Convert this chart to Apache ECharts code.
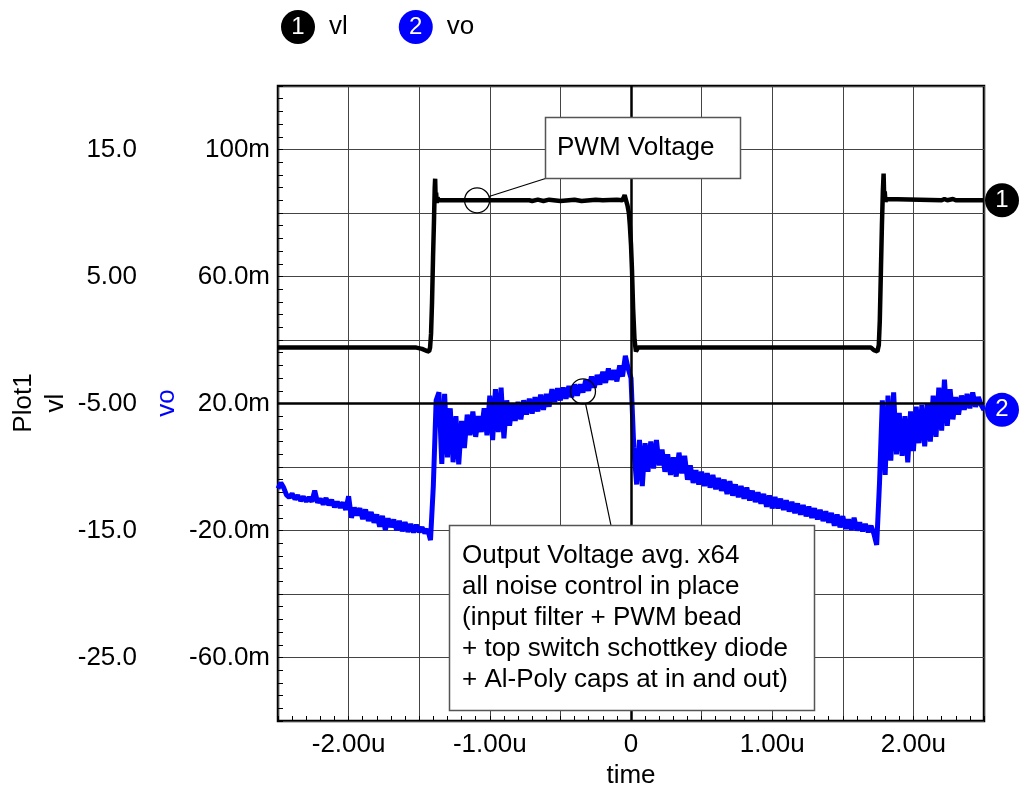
<!DOCTYPE html>
<html>
<head>
<meta charset="utf-8">
<script src="https://cdn.jsdelivr.net/npm/echarts@6/dist/echarts.min.js"></script>
<style>
  html, body { margin: 0; padding: 0; background: #fff; }
  #chart { width: 1019px; height: 788px; }
</style>
</head>
<body>
<div id="chart"></div>
<script>
// ---- scope capture: PWM node voltage (vl, volts) and averaged output ripple (vo, mV), time in µs ----

// labelled ticks
const timeTickLabels = [-2, -1, 0, 1, 2];
const vlTickLabels = [15, 5, -5, -15, -25];
const voTickLabels = [100, 60, 20, -20, -60];

// vl: switch node, edges sampled more densely
const vlTime = [
  -2.50, -1.52, -1.48, -1.45, -1.43, -1.423, -1.416, -1.409, -1.402, -1.395,
  -1.390, -1.387, -1.384, -1.380, -1.376, -1.370, -1.362, -1.30, -0.72, -0.70,
  -0.66, -0.62, -0.58, -0.50, -0.40, -0.35, -0.25, -0.20, -0.10, -0.06,
  -0.045, -0.035, -0.025, -0.015, -0.008, 0.000, 0.007, 0.015, 0.025, 0.035,
  0.05, 1.70, 1.72, 1.745, 1.755, 1.762, 1.770, 1.777, 1.784, 1.789,
  1.793, 1.797, 1.802, 1.81, 1.82, 2.20, 2.22, 2.24, 2.28, 2.30,
  2.50
];
const vlValue = [
  -0.6, -0.6, -0.7, -0.85, -0.9, -0.6, 0.5, 3.0, 6.5, 9.5,
  12.0, 12.7, 11.3, 11.6, 10.8, 11.2, 11.0, 11.0, 11.0, 10.95,
  11.05, 10.95, 11.05, 10.95, 11.05, 10.95, 11.05, 11.0, 11.05, 11.0,
  11.4, 11.0, 10.6, 10.0, 9.0, 7.5, 5.5, 2.5, 0.0, -0.9,
  -0.6, -0.6, -0.8, -0.9, -0.4, 1.5, 5.5, 9.0, 11.8, 13.1,
  11.2, 11.7, 10.9, 11.1, 11.0, 11.0, 11.1, 11.0, 11.1, 11.0,
  11.0
];

// vo: averaged output (mV), one sample every 20 ns starting at -2.50 µs
const voStart = -2.50;
const voStep = 0.02;
const voValue = [
  -6.8, -5.0, -6.5, -8.8, -9.6, -8.4, -10.1, -9.0, -10.6, -9.4,
  -10.8, -9.6, -10.9, -7.4, -11.2, -10.0, -11.8, -9.8, -12.0, -10.4,
  -12.6, -11.0, -12.8, -11.2, -13.5, -9.2, -16.0, -12.8, -15.2, -13.0,
  -16.4, -13.4, -17.0, -14.2, -17.5, -15.0, -18.8, -15.4, -19.8, -16.2,
  -18.9, -16.6, -19.9, -17.0, -20.2, -17.4, -20.4, -18.0, -20.6, -18.2,
  -20.5, -19.0, -20.8, -19.6, -23.0, -6.0, 21.0, 23.5, 1.0, 23.0,
  3.0, 18.5, 1.5, 16.0, 0.8, 14.5, 6.0, 16.5, 10.0, 17.5,
  9.5, 16.0, 11.0, 18.5, 10.0, 22.5, 8.5, 24.5, 11.0, 25.0,
  9.0, 21.0, 13.0, 20.0, 14.5, 20.5, 15.0, 21.0, 16.5, 21.5,
  16.8, 22.0, 17.5, 22.8, 18.0, 23.0, 19.0, 24.5, 20.5, 24.8,
  21.0, 25.0, 21.5, 25.5, 22.0, 26.0, 22.5, 26.0, 23.5, 27.5,
  24.0, 28.5, 25.0, 29.0, 26.0, 30.0, 26.5, 31.0, 27.5, 30.5,
  27.0, 32.0, 28.5, 35.0, 31.0, 28.0, 6.0, -5.5, 8.5, -6.0,
  7.5, -1.5, 8.0, -0.5, 8.5, 0.5, 5.5, -1.5, 4.0, -2.5,
  3.0, -3.0, 4.5, -2.0, 3.5, -4.0, 0.5, -5.0, -1.0, -5.5,
  -1.5, -6.0, -2.0, -6.5, -2.5, -7.0, -3.5, -7.5, -4.0, -8.5,
  -4.5, -9.0, -5.5, -9.5, -6.0, -10.0, -6.5, -10.5, -7.5, -11.0,
  -8.0, -11.5, -8.5, -12.5, -9.0, -13.0, -9.5, -13.0, -10.0, -13.5,
  -10.5, -14.0, -11.0, -14.5, -11.5, -15.0, -12.0, -15.5, -12.5, -16.0,
  -13.0, -16.5, -13.5, -17.0, -14.0, -17.5, -14.5, -18.5, -15.0, -19.0,
  -15.5, -19.5, -16.5, -19.8, -16.0, -20.0, -17.5, -20.2, -18.0, -20.5,
  -18.5, -21.0, -24.5, -5.0, 21.0, -2.5, 22.5, 2.0, 23.5, 4.0,
  17.0, 3.5, 16.0, 1.5, 17.5, 5.0, 19.0, 7.5, 19.5, 6.5,
  20.0, 8.0, 22.5, 9.5, 25.0, 11.5, 27.5, 13.0, 24.5, 15.0,
  22.0, 16.5, 22.5, 18.0, 23.0, 18.5, 23.5, 19.0, 22.0, 19.5,
  18.0
];

// annotation anchor points (data coordinates)
const pwmNote = { t: -1.09, v: 11.0, text: 'PWM Voltage' };
const outNote = {
  t: -0.34, v: 23.8,
  text: [
    'Output Voltage avg. x64',
    'all noise control in place',
    '(input filter + PWM bead',
    '+ top switch schottkey diode',
    '+ Al-Poly caps at in and out)'
  ]
};

const FONT = "'Liberation Sans', Arial, sans-serif";
const BLUE = '#0000ff';

const vlData = vlTime.map((t, i) => [t, vlValue[i]]);
const voData = voValue.map((v, i) => [voStart + i * voStep, v]);

const chart = echarts.init(document.getElementById('chart'), null, { renderer: 'canvas' });

const badge = (color) => ({
  backgroundColor: color, color: '#fff', width: 34, height: 34, lineHeight: 34,
  borderRadius: 17, align: 'center', fontSize: 24, fontFamily: FONT
});

const tickStyle = { color: '#000', width: 1 };

const option = {
  animation: false,
  backgroundColor: '#fff',
  textStyle: { fontFamily: FONT },
  legend: {
    left: 271, top: 5, itemWidth: 0, itemHeight: 0, itemGap: 46,
    icon: 'none', selectedMode: false,
    data: ['vl', 'vo'],
    formatter: (name) => name === 'vl' ? '{a|1}{t|vl}' : '{b|2}{t|vo}',
    textStyle: {
      rich: {
        a: badge('#000'),
        b: badge(BLUE),
        t: { fontSize: 26, color: '#000', padding: [0, 0, 0, 14], fontFamily: FONT }
      }
    }
  },
  grid: {
    left: 278, top: 86, width: 706, height: 635,
    show: true, borderColor: '#000', borderWidth: 2.5, backgroundColor: '#fff',
    outerBoundsMode: 'none'
  },
  xAxis: {
    type: 'value', min: -2.5, max: 2.5, interval: 0.5, position: 'bottom',
    name: 'time', nameLocation: 'middle', nameGap: 38,
    nameTextStyle: { fontSize: 26, color: '#000', fontFamily: FONT },
    axisLine: { show: false, onZero: false },
    axisTick: { show: true, inside: true, length: 5, lineStyle: tickStyle },
    minorTick: { show: true, splitNumber: 5, length: 5, lineStyle: tickStyle },
    splitLine: { show: true, lineStyle: { color: '#444', width: 1 } },
    axisLabel: {
      margin: 11, fontSize: 26, color: '#000', fontFamily: FONT,
      showMinLabel: true, showMaxLabel: true, hideOverlap: false,
      formatter: (v) => {
        const k = Math.round(v * 100) / 100;
        if (!timeTickLabels.includes(k)) return '';
        return k === 0 ? '0' : k.toPrecision(3) + 'u';
      }
    }
  },
  yAxis: [
    {
      type: 'value', min: -30, max: 20, interval: 5, position: 'left',
      axisLine: { show: false, onZero: false },
      axisTick: { show: true, inside: true, length: 5, lineStyle: tickStyle },
      minorTick: { show: true, splitNumber: 5, length: 5, lineStyle: tickStyle },
      splitLine: { show: true, lineStyle: { color: '#444', width: 1 } },
      axisLabel: {
        margin: 141, fontSize: 26, color: '#000', fontFamily: FONT,
        showMinLabel: true, showMaxLabel: true, hideOverlap: false,
        formatter: (v) => vlTickLabels.includes(v) ? v.toPrecision(3) : ''
      }
    },
    {
      type: 'value', min: -80, max: 120, interval: 20, position: 'left',
      axisLine: { show: false, onZero: false }, axisTick: { show: false }, splitLine: { show: false },
      axisLabel: {
        margin: 8, fontSize: 26, color: '#000', fontFamily: FONT,
        showMinLabel: true, showMaxLabel: true, hideOverlap: false,
        formatter: (v) => voTickLabels.includes(v) ? v.toPrecision(3) + 'm' : ''
      }
    }
  ],
  series: [
    {
      name: 'vl', type: 'line', xAxisIndex: 0, yAxisIndex: 0,
      data: vlData, showSymbol: false, symbol: 'none',
      lineStyle: { color: '#000', width: 4.5 }, itemStyle: { color: '#000' },
      z: 3,
      markLine: {
        silent: true, symbol: 'none', label: { show: false },
        lineStyle: { color: '#000', width: 2.5, type: 'solid' },
        data: [{ yAxis: -5 }, { xAxis: 0 }]
      },
      markPoint: {
        silent: true,
        data: [{
          coord: vlData[vlData.length - 1], symbol: 'circle', symbolSize: 34,
          symbolOffset: [18, 0], itemStyle: { color: '#000' },
          label: { show: true, position: 'inside', formatter: '1', color: '#fff', fontSize: 24, fontFamily: FONT }
        }]
      }
    },
    {
      name: 'vo', type: 'line', xAxisIndex: 0, yAxisIndex: 1,
      data: voData, showSymbol: false, symbol: 'none',
      lineStyle: { color: BLUE, width: 5 }, itemStyle: { color: BLUE },
      z: 4,
      markPoint: {
        silent: true,
        data: [{
          coord: voData[voData.length - 1], symbol: 'circle', symbolSize: 34,
          symbolOffset: [18, 0], itemStyle: { color: BLUE },
          label: { show: true, position: 'inside', formatter: '2', color: '#fff', fontSize: 24, fontFamily: FONT }
        }]
      }
    }
  ],
  graphic: [
    { type: 'text', x: 24, y: 403, rotation: Math.PI / 2, z: 50,
      style: { text: 'Plot1', fontSize: 26, fontFamily: FONT, fill: '#000', align: 'center', verticalAlign: 'middle' } },
    { type: 'text', x: 56, y: 403, rotation: Math.PI / 2, z: 50,
      style: { text: 'vl', fontSize: 26, fontFamily: FONT, fill: '#000', align: 'center', verticalAlign: 'middle' } },
    { type: 'text', x: 167, y: 403, rotation: Math.PI / 2, z: 50,
      style: { text: 'vo', fontSize: 26, fontFamily: FONT, fill: BLUE, align: 'center', verticalAlign: 'middle' } }
  ]
};

chart.setOption(option);

// callouts: box + leader line + ring around the annotated point
const R = 12.5;
const p1 = chart.convertToPixel({ xAxisIndex: 0, yAxisIndex: 0 }, [pwmNote.t, pwmNote.v]);
const p2 = chart.convertToPixel({ xAxisIndex: 0, yAxisIndex: 1 }, [outNote.t, outNote.v]);

function leader(from, center) {
  const dx = from[0] - center[0], dy = from[1] - center[1];
  const d = Math.hypot(dx, dy);
  return { x1: from[0], y1: from[1], x2: center[0] + R * dx / d, y2: center[1] + R * dy / d };
}

const box1 = { x: 545.5, y: 117.5, width: 195, height: 61 };
const box2 = { x: 449.5, y: 525.5, width: 365, height: 185 };

chart.setOption({
  graphic: option.graphic.concat([
    { type: 'line', z: 90, shape: leader([box1.x, box1.y + box1.height], p1), style: { stroke: '#000', lineWidth: 1.2 } },
    { type: 'circle', z: 90, shape: { cx: p1[0], cy: p1[1], r: R }, style: { fill: 'none', stroke: '#000', lineWidth: 1.3 } },
    { type: 'rect', z: 100, shape: box1, style: { fill: '#fff', stroke: '#555', lineWidth: 1.5 } },
    { type: 'text', z: 101, x: box1.x + 11.5, y: box1.y + box1.height / 2,
      style: { text: pwmNote.text, fontSize: 26, fontFamily: FONT, fill: '#000', align: 'left', verticalAlign: 'middle' } },
    { type: 'line', z: 90, shape: leader([611, box2.y], p2), style: { stroke: '#000', lineWidth: 1.2 } },
    { type: 'circle', z: 90, shape: { cx: p2[0], cy: p2[1], r: R }, style: { fill: 'none', stroke: '#000', lineWidth: 1.3 } },
    { type: 'rect', z: 100, shape: box2, style: { fill: '#fff', stroke: '#555', lineWidth: 1.5 } },
    { type: 'text', z: 101, x: box2.x + 12.5, y: box2.y + 15,
      style: { text: outNote.text.join('\n'), fontSize: 26, lineHeight: 31, fontFamily: FONT, fill: '#000', align: 'left', verticalAlign: 'top' } }
  ])
});
</script>
</body>
</html>
